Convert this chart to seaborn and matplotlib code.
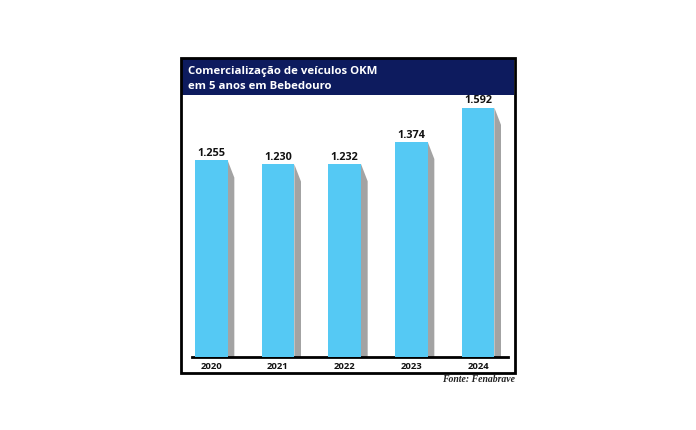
import matplotlib
matplotlib.use("Agg")
import matplotlib.pyplot as plt
import matplotlib.patches as mpatches
import seaborn as sns
import pandas as pd

# dados
anos = ["2020", "2021", "2022", "2023", "2024"]
vendas = [1255, 1230, 1232, 1374, 1592]
rotulos = ["1.255", "1.230", "1.232", "1.374", "1.592"]

titulo = "Comercialização de veículos OKM\nem 5 anos em Bebedouro"
fonte = "Fonte: Fenabrave"

df = pd.DataFrame({"ano": anos, "vendas": vendas})

sns.set_theme(style="white")
plt.rcParams["font.family"] = ["Open Sans", "DejaVu Sans"]

W, H = 696, 430
fig = plt.figure(figsize=(W / 100, H / 100), dpi=100)
fig.patch.set_facecolor("white")

def fx(px):
    return px / W

def fy(py):
    return 1 - py / H

# moldura externa
fig.add_artist(mpatches.Rectangle((fx(181), fy(373)), fx(515) - fx(181), fy(58) - fy(373),
                                  transform=fig.transFigure, fill=False,
                                  edgecolor="black", linewidth=2, zorder=5))
# faixa do título
fig.add_artist(mpatches.Rectangle((fx(182), fy(95)), fx(514) - fx(182), fy(58) - fy(95),
                                  transform=fig.transFigure, facecolor="#0d1b5e",
                                  edgecolor="none", zorder=4))
fig.text(fx(188), fy(79), titulo, color="white", fontsize=8.2, fontweight="bold",
         va="center", ha="left", linespacing=1.45, zorder=6)

ax = fig.add_axes([fx(192), fy(357), fx(508) - fx(192), fy(97) - fy(357)])
sns.barplot(data=df, x="ano", y="vendas", color="#55c9f4", saturation=1,
            width=0.49, linewidth=0, ax=ax, zorder=3)

ax.set_xlim(-0.29, 4.45)
ax.set_ylim(0, 1660)

# sombra cinza à direita de cada barra
sw = 0.1
drop = 110
for i, p in enumerate(ax.patches[:len(anos)]):
    x1 = p.get_x() + p.get_width()
    top = p.get_height()
    poly = mpatches.Polygon([(x1, top), (x1 + sw, top - drop), (x1 + sw, 0), (x1, 0)],
                            closed=True, facecolor="#a3a3a3", edgecolor="none", zorder=2)
    ax.add_patch(poly)
    ax.text(p.get_x() + p.get_width() / 2, top + 8, rotulos[i],
            ha="center", va="bottom", fontsize=7.8, fontweight="bold", color="#111111")

for s in ["top", "right", "left"]:
    ax.spines[s].set_visible(False)
ax.spines["bottom"].set_linewidth(2)
ax.spines["bottom"].set_color("black")
ax.set_yticks([])
ax.set_xlabel("")
ax.set_ylabel("")
ax.tick_params(axis="x", length=0, pad=3.5)
for t in ax.get_xticklabels():
    t.set_fontsize(6.8)
    t.set_fontweight("bold")
    t.set_color("#111111")
ax.patch.set_alpha(0)

fig.text(fx(515), fy(380), fonte, ha="right", va="center", fontsize=7,
         fontstyle="italic", fontweight="bold", family="Liberation Serif", color="#222222")

fig.savefig("out.png", dpi=100)
